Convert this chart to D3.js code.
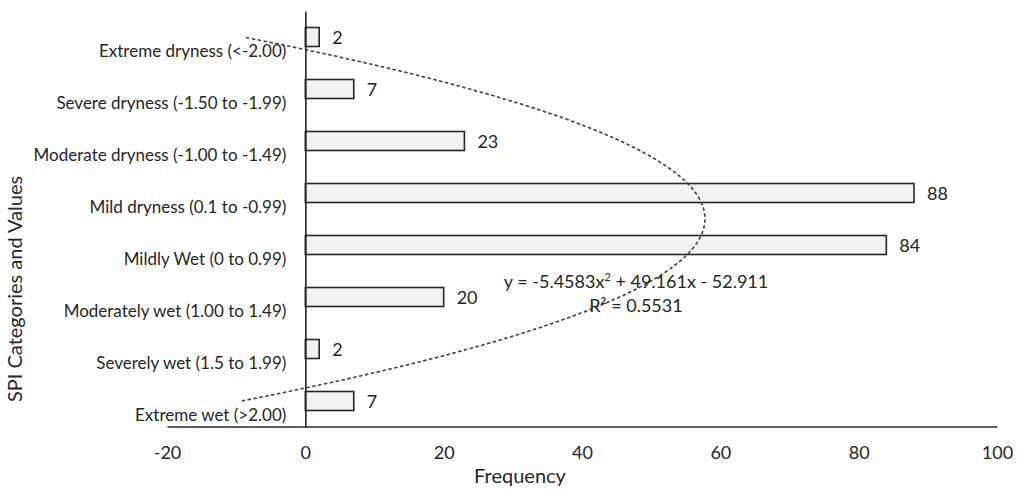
<!DOCTYPE html>
<html>
<head>
<meta charset="utf-8">
<script src="https://cdn.jsdelivr.net/npm/d3@7"></script>
<style>
  body { margin: 0; background: #fff; }
  svg { display: block; font-family: Lato, "Open Sans", sans-serif; }
</style>
</head>
<body>
<svg id="chart" width="1018" height="489"></svg>
<script>
// SPI category labels, top to bottom
const categories = [
  "Extreme dryness (<-2.00)",
  "Severe dryness (-1.50 to -1.99)",
  "Moderate dryness (-1.00 to -1.49)",
  "Mild dryness (0.1 to -0.99)",
  "Mildly Wet (0 to 0.99)",
  "Moderately wet (1.00 to 1.49)",
  "Severely wet (1.5 to 1.99)",
  "Extreme wet (>2.00)"
];
// Frequency of each category
const frequency = [2, 7, 23, 88, 84, 20, 2, 7];
// Frequency axis ticks
const xTicks = [-20, 0, 20, 40, 60, 80, 100];
// Polynomial trendline coefficients (a x^2 + b x + c), x = category index from bottom (1..8)
const trendCoef = [-5.4583, 49.161, -52.911];
const trendLabel = ["y = -5.4583x", "2", " + 49.161x - 52.911"];
const r2Label = "R² = 0.5531";

const FONT = "Lato, 'Open Sans', sans-serif";
const svg = d3.select("#chart");
const x = d3.scaleLinear().domain([-20, 100]).range([167, 997]);
const y = d3.scaleBand().domain(categories).range([11, 427])
  .paddingInner(0.635).paddingOuter(0.3175);

const ink = "#262626";
const x0 = x(0);

// bars
svg.append("g").selectAll("rect").data(categories).join("rect")
  .attr("x", x0)
  .attr("y", d => y(d))
  .attr("width", (d, i) => x(frequency[i]) - x0)
  .attr("height", y.bandwidth())
  .attr("fill", "#f2f2f2")
  .attr("stroke", ink)
  .attr("stroke-width", 1.6);

// value labels
svg.append("g").selectAll("text").data(categories).join("text")
  .attr("x", (d, i) => x(frequency[i]) + 13)
  .attr("y", d => y(d) + y.bandwidth() / 2 + 1)
  .attr("dy", "0.35em")
  .attr("font-size", 18)
  .attr("fill", ink)
  .text((d, i) => frequency[i]);

// x axis
const xAxis = svg.append("g").attr("transform", "translate(0,426.5)")
  .call(d3.axisBottom(x).tickValues(xTicks).tickSize(0).tickPadding(20).tickFormat(d => String(d)));
xAxis.select(".domain").attr("stroke", ink).attr("stroke-width", 1.6);
xAxis.selectAll("text").attr("font-size", 18).attr("fill", ink).attr("font-family", FONT);

// y axis at zero
const yAxis = svg.append("g").attr("transform", `translate(${x0},0)`)
  .call(d3.axisLeft(y).tickSize(0).tickPadding(19));
yAxis.select(".domain").attr("stroke", ink).attr("stroke-width", 1.6);
yAxis.selectAll("text").attr("font-size", 17).attr("fill", ink)
  .attr("dy", "1.15em").attr("font-family", FONT);

// trendline from the fitted polynomial
const n = categories.length;
const idxToY = d3.scaleLinear().domain([1, n])
  .range([y(categories[n - 1]) + y.bandwidth() / 2, y(categories[0]) + y.bandwidth() / 2]);
const trendPts = d3.range(1, n + 0.001, 0.05).map(t => [
  x(trendCoef[0] * t * t + trendCoef[1] * t + trendCoef[2]), idxToY(t)
]);
svg.append("path")
  .attr("d", d3.line()(trendPts))
  .attr("fill", "none")
  .attr("stroke", "#404040")
  .attr("stroke-width", 1.6)
  .attr("stroke-dasharray", "3.5,2.5");

// trendline equation and R²
const eq = svg.append("text").attr("x", 636).attr("y", 288)
  .attr("text-anchor", "middle").attr("font-size", 18).attr("fill", ink);
eq.append("tspan").text(trendLabel[0]);
eq.append("tspan").attr("dy", -7).attr("font-size", 11).text(trendLabel[1]);
eq.append("tspan").attr("dy", 7).text(trendLabel[2]);
svg.append("text").attr("x", 636).attr("y", 312)
  .attr("text-anchor", "middle").attr("font-size", 18).attr("fill", ink)
  .text(r2Label);

// axis titles
svg.append("text").attr("x", 520).attr("y", 483)
  .attr("text-anchor", "middle").attr("font-size", 20).attr("fill", ink)
  .text("Frequency");
svg.append("text").attr("transform", "translate(22,289) rotate(-90)")
  .attr("text-anchor", "middle").attr("font-size", 20).attr("fill", ink)
  .text("SPI Categories and Values");
</script>
</body>
</html>
